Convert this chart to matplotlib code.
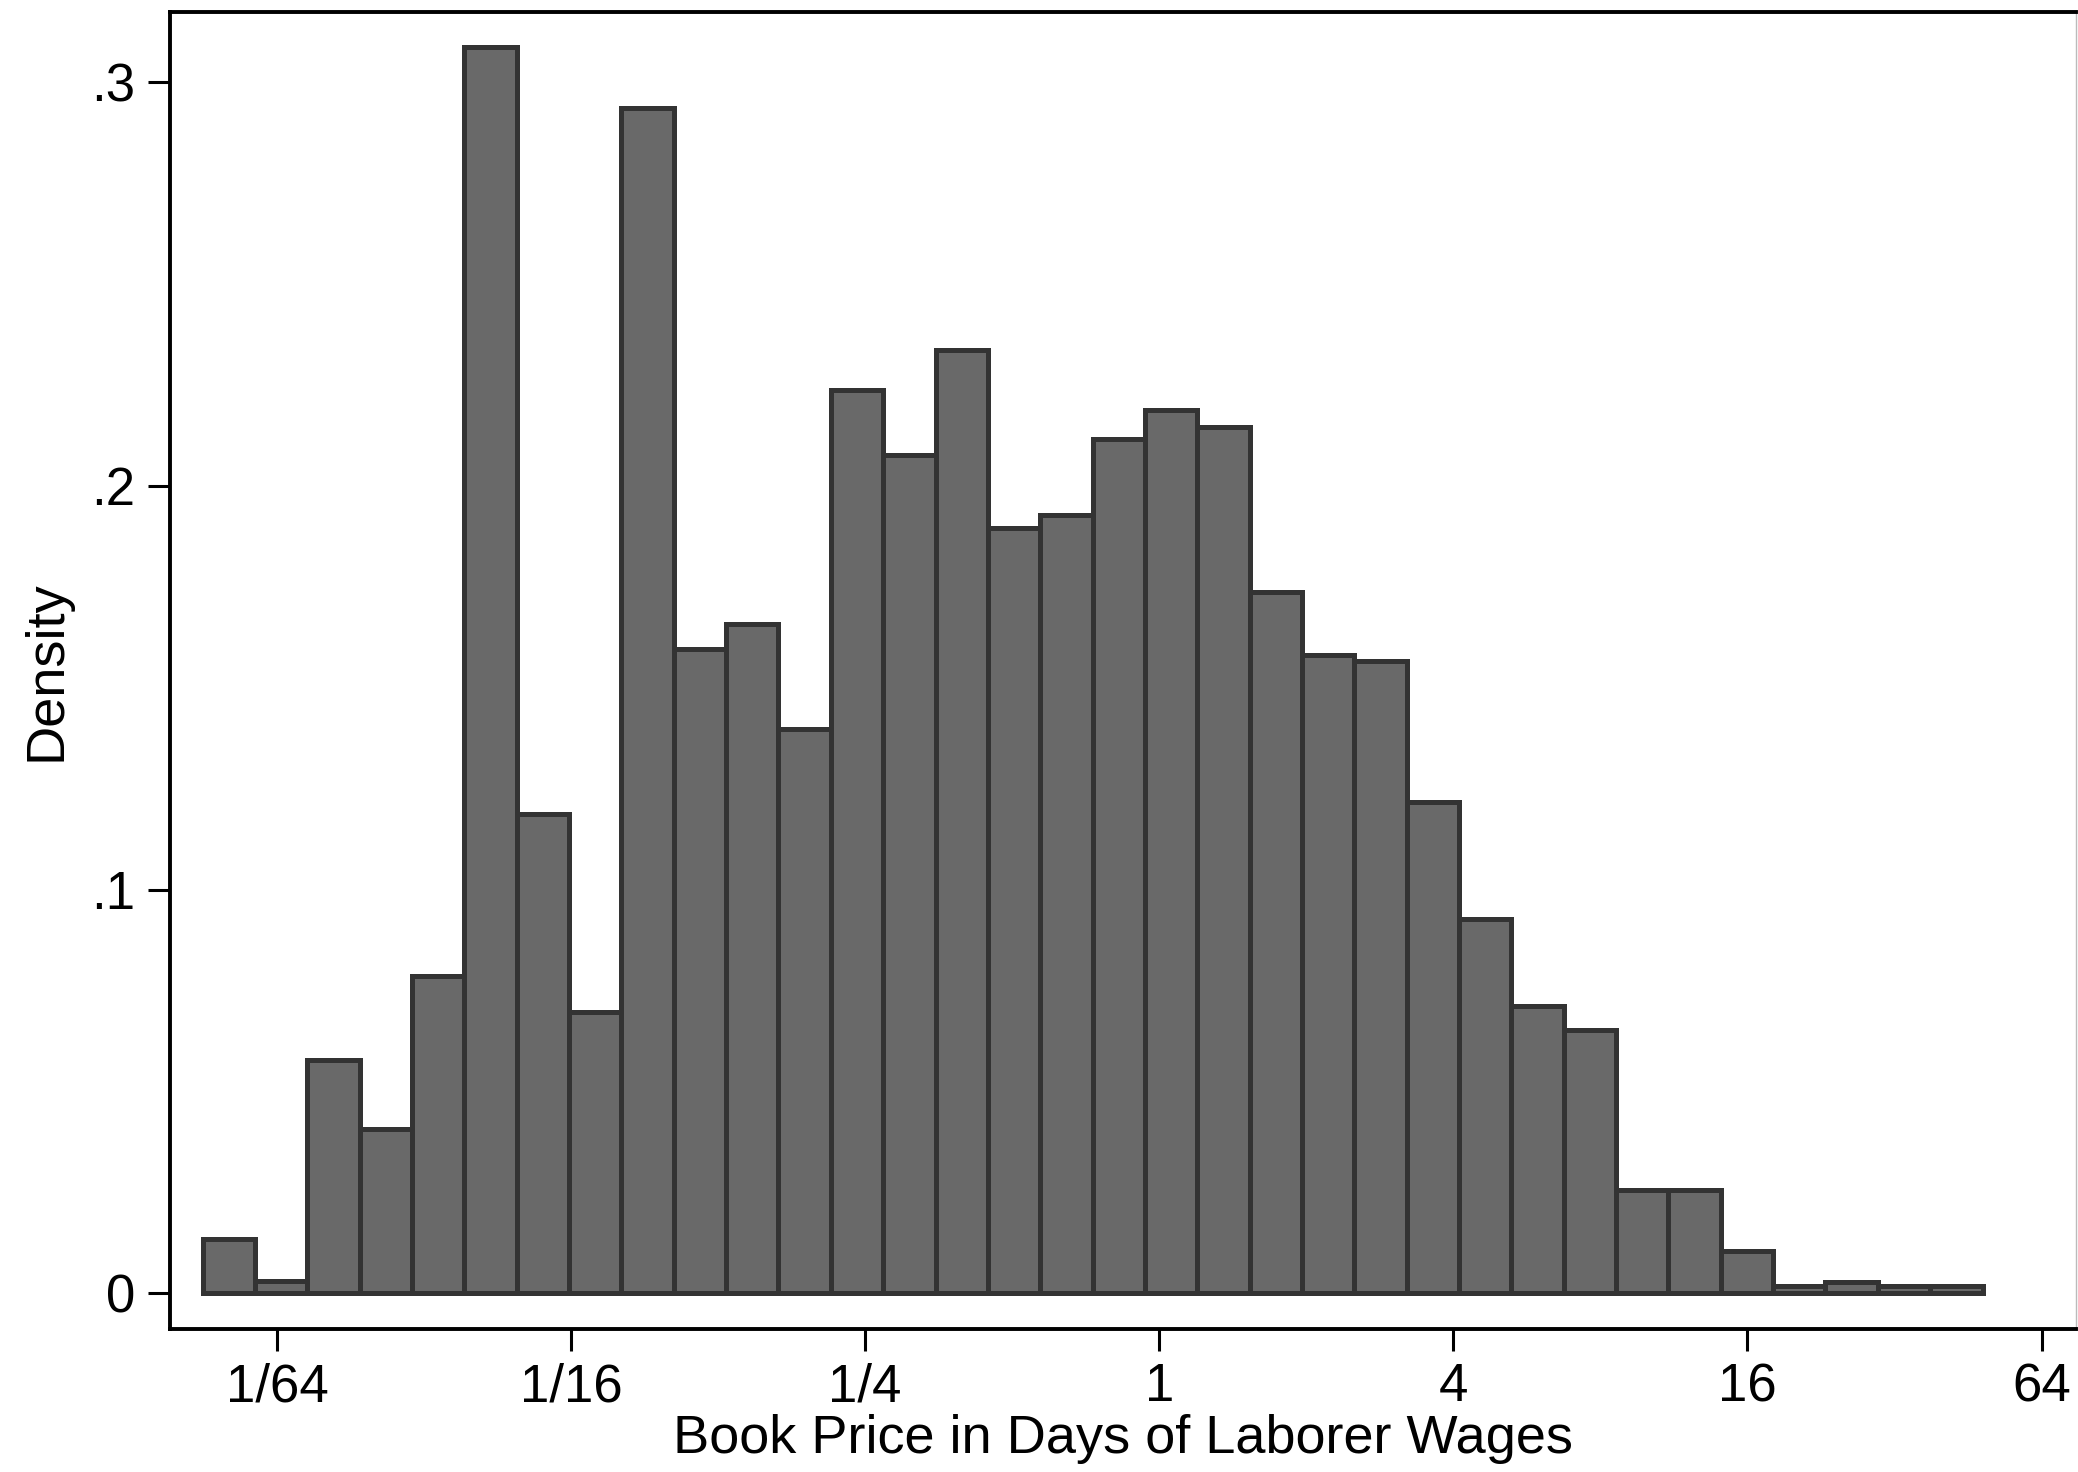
import numpy as np
import matplotlib
matplotlib.use('Agg')
import matplotlib.pyplot as plt

plt.rcParams['font.family'] = ['Liberation Sans', 'DejaVu Sans']

# histogram of book prices (log2 bins), density
bin_start_log2 = -6.505
bin_width_log2 = 0.3560
densidade = [0.0135, 0.0030, 0.0577, 0.0407, 0.0787, 0.3087, 0.1187, 0.0697,
             0.2937, 0.1597, 0.1657, 0.1397, 0.2237, 0.2077, 0.2337, 0.1897,
             0.1927, 0.2117, 0.2187, 0.2147, 0.1737, 0.1582, 0.1567, 0.1217,
             0.0927, 0.0712, 0.0653, 0.0257, 0.0257, 0.0105, 0.0018, 0.0028,
             0.0018, 0.0018]

xticks = [1/64, 1/16, 1/4, 1, 4, 16, 64]
xtick_labels = ['1/64', '1/16', '1/4', '1', '4', '16', '64']
yticks = [0, 0.1, 0.2, 0.3]
ytick_labels = ['0', '.1', '.2', '.3']

bordas = 2.0 ** (bin_start_log2 + bin_width_log2 * np.arange(len(densidade) + 1))

fig = plt.figure(figsize=(20.78, 14.72), dpi=100)
ax = fig.add_axes([0.0816, 0.0971, 0.9174, 0.8947])

ax.bar(bordas[:-1], densidade, width=np.diff(bordas), align='edge',
       color='#696969', edgecolor='#333333', linewidth=3.6)

ax.set_xscale('log', base=2)
ax.set_xlim(2 ** -6.730, 2 ** 6.234)
ax.set_ylim(-0.00886, 0.3174)

ax.set_xticks(xticks)
ax.set_xticklabels(xtick_labels)
ax.minorticks_off()
ax.set_yticks(yticks)
ax.set_yticklabels(ytick_labels)

ax.tick_params(axis='both', length=16, width=2.2, labelsize=38, pad=9,
               color='black')
ax.tick_params(axis='x', pad=8)

for lado in ['left', 'bottom', 'top']:
    ax.spines[lado].set_linewidth(2.8)
    ax.spines[lado].set_color('black')
ax.spines['right'].set_linewidth(1.0)
ax.spines['right'].set_color('#bbbbbb')

ax.set_xlabel('Book Price in Days of Laborer Wages', fontsize=39, labelpad=1)
ax.set_ylabel('Density', fontsize=39, labelpad=14)

fig.savefig('out.png', dpi=100)
